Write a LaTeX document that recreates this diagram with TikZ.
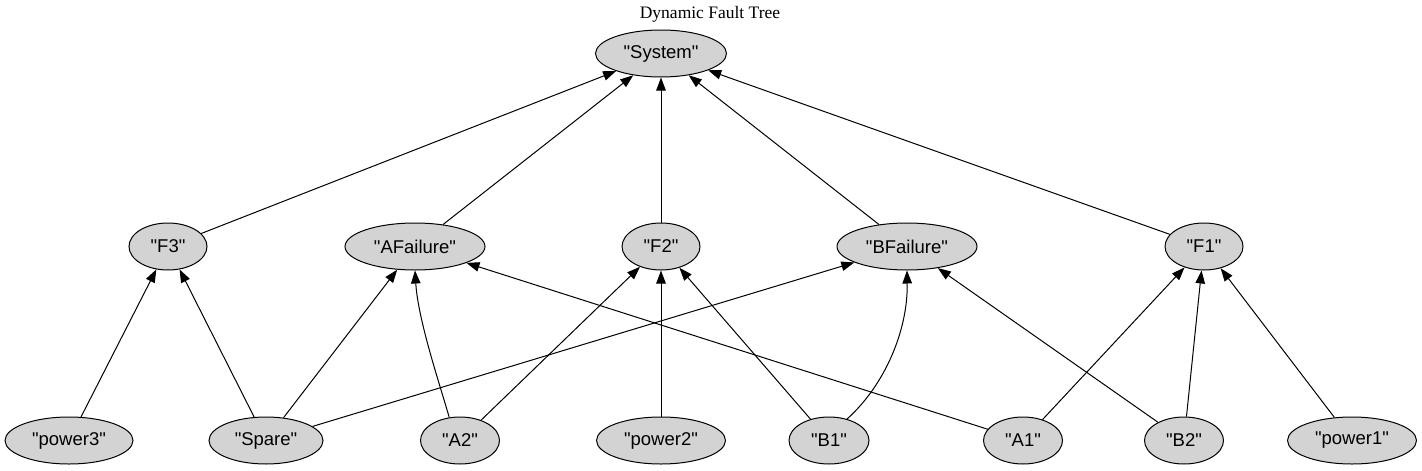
\documentclass[tikz,border=0pt]{standalone}
\usepackage{fontspec}
\setmainfont{Liberation Serif}
\newfontfamily\arialfont{Liberation Sans}
\usetikzlibrary{shapes.geometric,arrows.meta}
\definecolor{nodegray}{HTML}{D3D3D3}
\begin{document}
\begin{tikzpicture}[x=1pt,y=-1pt,
  ell/.style={ellipse, draw=black, line width=1pt, fill=nodegray, minimum height=47pt,
    inner sep=0pt, font=\arialfont\fontsize{18.5}{20}\selectfont, minimum width=#1},
  ell/.default=78pt,
  edge/.style={draw=black, line width=1pt, -{Triangle[length=13pt,width=9.5pt]}},
  titlestyle/.style={font=\fontsize{17.5}{20}\selectfont, inner sep=0pt, anchor=base}]
\useasboundingbox (0,0) rectangle (1422,471);
\node[titlestyle] (title) at (710,19) {Dynamic Fault Tree};
% top
\node[ell=131pt] (System) at (661,53.5) {"System"};
% middle
\node[ell=78pt] (F3) at (168,246.5) {"F3"};
\node[ell=140pt] (AFailure) at (415,246.5) {"AFailure"};
\node[ell=78pt] (F2) at (661,246.5) {"F2"};
\node[ell=140pt] (BFailure) at (907,246.5) {"BFailure"};
\node[ell=78pt] (F1) at (1204,246.5) {"F1"};
% bottom
\node[ell=128pt] (power3) at (69,440.5) {"power3"};
\node[ell=114pt] (Spare) at (266,440.5) {"Spare"};
\node[ell=79pt] (A2) at (460,440.5) {"A2"};
\node[ell=129pt] (power2) at (661,440.5) {"power2"};
\node[ell=80pt] (B1) at (829,440.5) {"B1"};
\node[ell=79pt] (A1) at (1023,440.5) {"A1"};
\node[ell=79pt] (B2) at (1184,440.5) {"B2"};
\node[ell=129pt] (power1) at (1352,440.5) {"power1"};
% edges to System
\draw[edge] (F3) -- (System);
\draw[edge] (AFailure) -- (System);
\draw[edge] (F2) -- (System);
\draw[edge] (BFailure) -- (System);
\draw[edge] (F1) -- (System);
% edges to F3
\draw[edge] (power3) -- (F3);
\draw[edge] (Spare) -- (F3);
% edges to AFailure
\draw[edge] (Spare) -- (AFailure);
\draw[edge] (A2.115) .. controls (440,385) and (418,320) .. (AFailure.south);
\draw[edge] (A1) -- (AFailure);
% edges to F2
\draw[edge] (A2) -- (F2);
\draw[edge] (power2) -- (F2);
\draw[edge] (B1) -- (F2);
% edges to BFailure
\draw[edge] (Spare) -- (BFailure);
\draw[edge] (B1.50) .. controls (885,385) and (908,330) .. (BFailure.south);
\draw[edge] (B2) -- (BFailure);
% edges to F1
\draw[edge] (A1) -- (F1);
\draw[edge] (B2) -- (F1);
\draw[edge] (power1) -- (F1);
\end{tikzpicture}
\end{document}
